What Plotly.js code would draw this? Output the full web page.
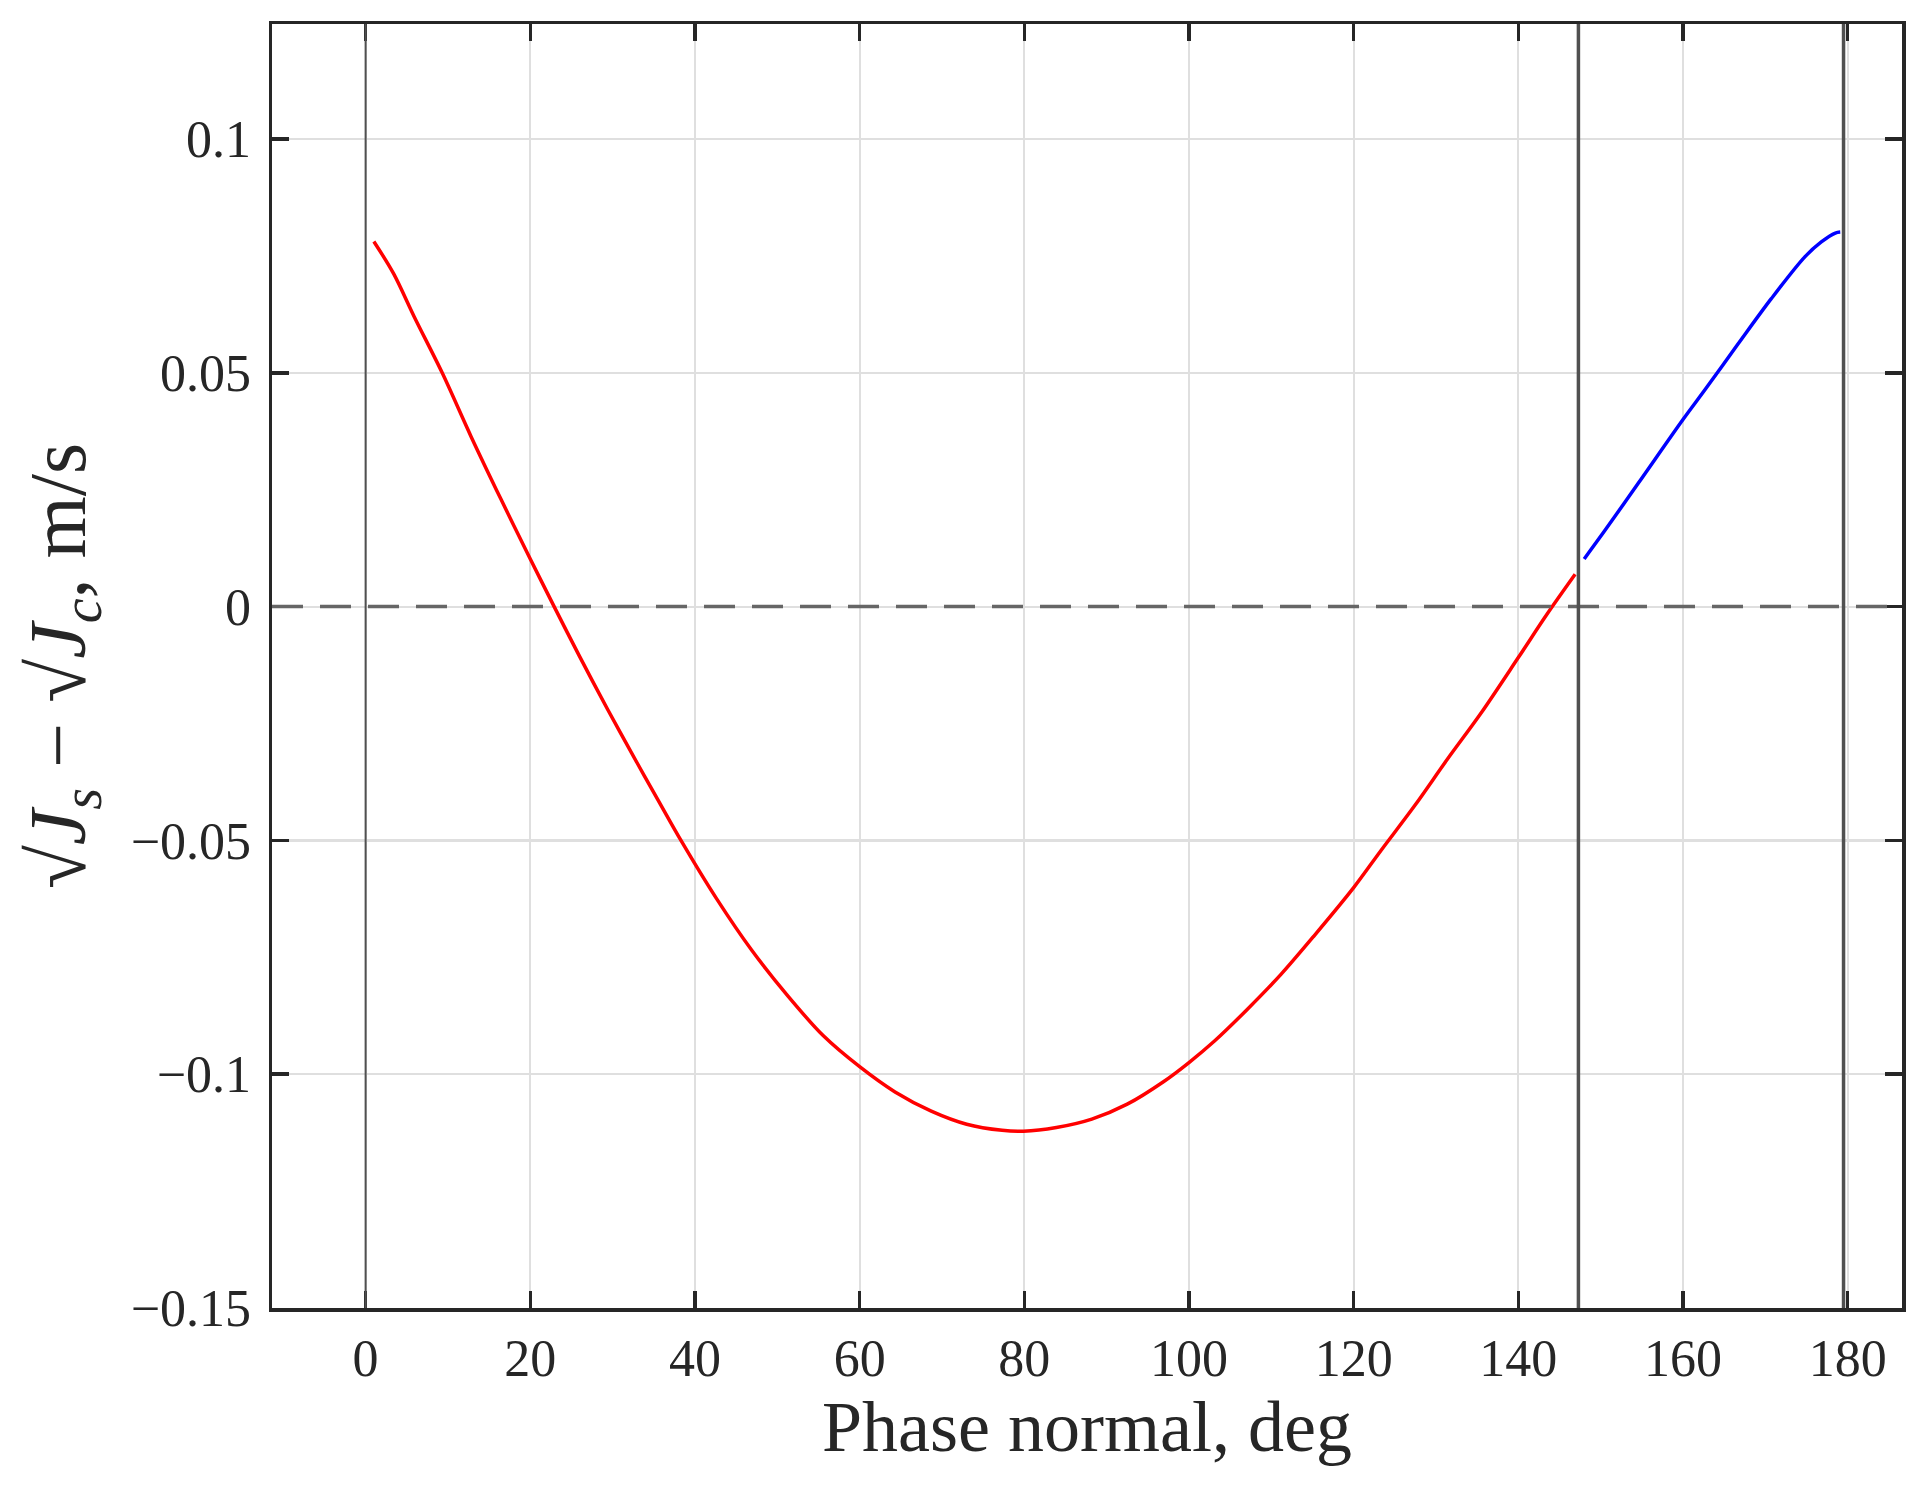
<!DOCTYPE html>
<html>
<head>
<meta charset="utf-8">
<script src="https://cdn.plot.ly/plotly-3.0.1.min.js"></script>
<style>
  html, body { margin: 0; padding: 0; background: #ffffff; }
  #chart { width: 1924px; height: 1490px; }
</style>
</head>
<body>
<div id="chart"></div>
<script>
// ── data ─────────────────────────────────────────────────────────

// red branch (phase normal, deg -> sqrt(Js) - sqrt(Jc), m/s)
const redX = [1.0, 3.4, 5.9, 9.3, 12.8, 16.4, 20.0, 22.9, 26.0, 29.4, 33.0, 35.4,
  38.3, 42.6, 46.9, 51.3, 55.6, 60.0, 64.3, 68.7, 73.0, 77.3, 79.9, 83.9, 88.2,
  92.5, 96.9, 100.0, 103.1, 107.1, 111.2, 115.2, 120.0, 123.3, 127.4, 131.4,
  135.5, 140.0, 143.5, 146.9];
const redY = [0.0781, 0.0712, 0.0620, 0.0500, 0.0364, 0.0231, 0.0102, 0.0, -0.0107,
  -0.0220, -0.0335, -0.0410, -0.0500, -0.0624, -0.0735, -0.0833, -0.0918, -0.0984,
  -0.1038, -0.1079, -0.1107, -0.1120, -0.1122, -0.1114, -0.1096, -0.1064, -0.1016,
  -0.0975, -0.0929, -0.0861, -0.0786, -0.0704, -0.0601, -0.0522, -0.0426, -0.0326,
  -0.0227, -0.0109, -0.0016, 0.0069];

// blue branch
const blueX = [148.0, 150.4, 154.5, 160.0, 162.6, 166.7, 170.7, 174.8, 176.8, 178.5, 179.1];
const blueY = [0.0102, 0.0160, 0.0262, 0.0400, 0.0462, 0.0562, 0.0658, 0.0748, 0.0780, 0.0799, 0.0801];

// vertical marker lines (deg) and horizontal reference
const vlineX = [0, 147.3, 179.5];
const vlineW = [2, 3.5, 3.5];
const hlineY = 0;

// axes
const xTicks = [0, 20, 40, 60, 80, 100, 120, 140, 160, 180];
const yTicks = [-0.15, -0.1, -0.05, 0, 0.05, 0.1];
const yTickText = ['\u22120.15', '\u22120.1', '\u22120.05', '0', '0.05', '0.1'];
const xRange = [-11.37, 186.6];
const yRange = [-0.15, 0.1246];

const INK = '#262626';
const FONT = "'Liberation Serif', 'DejaVu Serif', serif";

// ── traces ───────────────────────────────────────────────────────

const traces = [
  {
    x: redX, y: redY,
    type: 'scatter', mode: 'lines',
    line: { color: '#ff0000', width: 3.5, shape: 'spline', smoothing: 0.9 },
    hoverinfo: 'skip',
  },
  {
    x: blueX, y: blueY,
    type: 'scatter', mode: 'lines',
    line: { color: '#0000ff', width: 3.5, shape: 'spline', smoothing: 0.9 },
    hoverinfo: 'skip',
  },
];

const shapes = [
  {
    type: 'line', xref: 'paper', x0: 0, x1: 1, y0: hlineY, y1: hlineY,
    line: { color: '#666666', width: 3.5, dash: '31px,17px' },
    layer: 'above',
  },
  ...vlineX.map((v, i) => ({
    type: 'line', x0: v, x1: v, yref: 'paper', y0: 0, y1: 1,
    line: { color: '#505050', width: vlineW[i] },
    layer: 'above',
  })),
];

const axisBase = {
  showline: true,
  linecolor: INK,
  linewidth: 3.5,
  mirror: 'allticks',
  ticks: 'inside',
  ticklen: 17,
  tickwidth: 3.5,
  tickcolor: INK,
  showgrid: true,
  gridcolor: '#dfdfdf',
  gridwidth: 2.2,
  zeroline: false,
  tickfont: { family: FONT, size: 52, color: INK },
};

const layout = {
  width: 1924,
  height: 1490,
  paper_bgcolor: '#ffffff',
  plot_bgcolor: '#ffffff',
  showlegend: false,
  margin: { l: 272, r: 22, t: 24, b: 182 },
  font: { family: FONT, color: INK },
  xaxis: {
    ...axisBase,
    range: xRange,
    tickvals: xTicks,
    ticktext: xTicks.map(String),
    ticklabelstandoff: 2,
    title: {
      text: 'Phase normal, deg',
      font: { family: FONT, size: 72, color: INK },
      standoff: 12,
    },
  },
  yaxis: {
    ...axisBase,
    range: yRange,
    tickvals: yTicks,
    ticktext: yTickText,
    ticklabelstandoff: 7,
    title: {
      text: '\u221A<i>J<sub>s</sub></i> \u2212 \u221A<i>J<sub>c</sub></i>, m/s',
      font: { family: FONT, size: 80, color: INK },
      standoff: 20,
    },
  },
  shapes,
};

Plotly.newPlot('chart', traces, layout, { displayModeBar: false, staticPlot: true });
</script>
</body>
</html>
